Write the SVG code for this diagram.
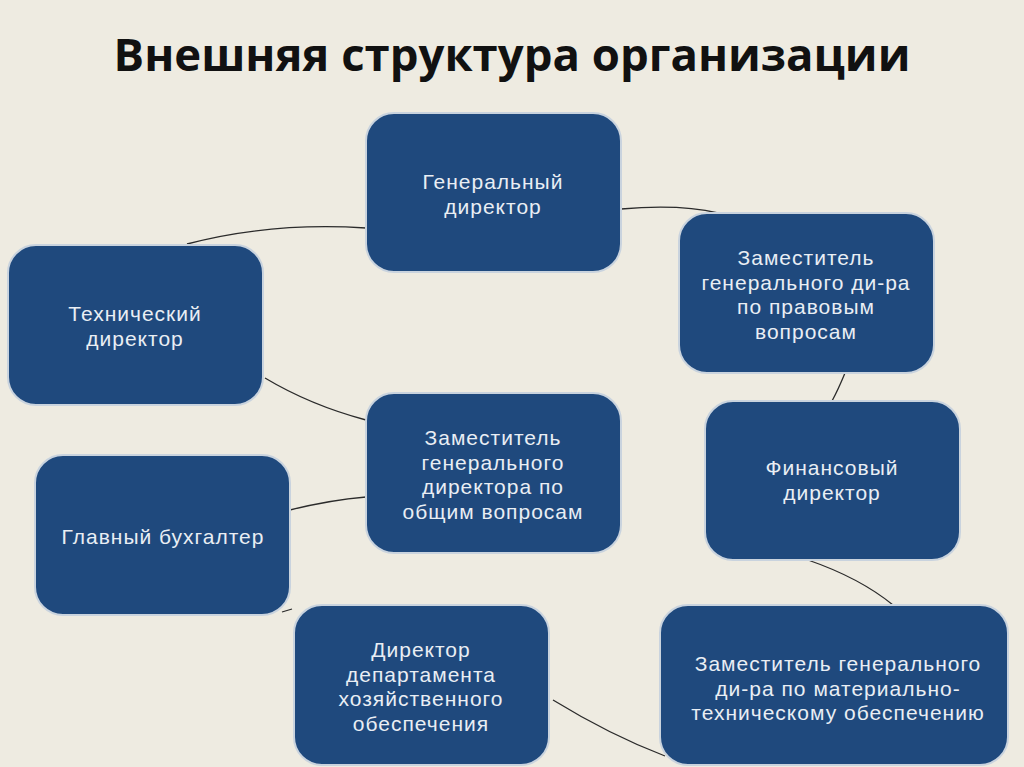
<svg xmlns="http://www.w3.org/2000/svg" width="1024" height="767" viewBox="0 0 1024 767">
<style>
.box{fill:#1F497D;stroke:#C9D3DE;stroke-width:2}
.t{font-family:"Liberation Sans","Arial",sans-serif;font-size:21px;letter-spacing:1px;fill:#E9EEF4;text-anchor:middle}
.c{fill:none;stroke:#2B2B2B;stroke-width:1.3}
.title{font-family:"Open Sans","Liberation Sans",sans-serif;font-weight:bold;font-size:45.5px;fill:#111;text-anchor:middle}
</style>
<rect width="1024" height="767" fill="#EEEBE1"/>
<text class="title" x="512" y="71">Внешняя структура организации</text>
<g id="connectors">
<path class="c" d="M187,244 Q270,222 366,228"/>
<path class="c" d="M621,209 Q680,204 718,213"/>
<path class="c" d="M845,373 Q838,390 832,401"/>
<path class="c" d="M808,560 Q860,578 893,605"/>
<path class="c" d="M553,700 Q610,735 665,756"/>
<path class="c" d="M282,612 L292,609"/>
<path class="c" d="M290,510 Q330,500 366,497"/>
<path class="c" d="M265,378 Q310,405 366,420"/>
</g>
<g id="gen">
<rect class="box" x="366" y="113" width="255" height="159" rx="28"/>
<text class="t" x="493" y="189">Генеральный</text>
<text class="t" x="493" y="213.5">директор</text>
</g>
<g id="tech">
<rect class="box" x="8" y="245" width="255" height="160" rx="28"/>
<text class="t" x="135" y="321">Технический</text>
<text class="t" x="135" y="345.5">директор</text>
</g>
<g id="legal">
<rect class="box" x="679" y="213" width="255" height="160" rx="28"/>
<text class="t" x="806" y="265">Заместитель</text>
<text class="t" x="806" y="289.5">генерального ди-ра</text>
<text class="t" x="806" y="314">по правовым</text>
<text class="t" x="806" y="338.5">вопросам</text>
</g>
<g id="general">
<rect class="box" x="366" y="393" width="255" height="160" rx="28"/>
<text class="t" x="493" y="445">Заместитель</text>
<text class="t" x="493" y="469.5">генерального</text>
<text class="t" x="493" y="494">директора по</text>
<text class="t" x="493" y="518.5">общим вопросам</text>
</g>
<g id="fin">
<rect class="box" x="705" y="401" width="255" height="159" rx="28"/>
<text class="t" x="832" y="475">Финансовый</text>
<text class="t" x="832" y="499.5">директор</text>
</g>
<g id="acc">
<rect class="box" x="35" y="455" width="255" height="160" rx="28"/>
<text class="t" x="163" y="544">Главный бухгалтер</text>
</g>
<g id="dept">
<rect class="box" x="294" y="605" width="255" height="160" rx="28"/>
<text class="t" x="421" y="657">Директор</text>
<text class="t" x="421" y="681.5">департамента</text>
<text class="t" x="421" y="706">хозяйственного</text>
<text class="t" x="421" y="730.5">обеспечения</text>
</g>
<g id="mat">
<rect class="box" x="660" y="605" width="348" height="160" rx="28"/>
<text class="t" x="838" y="671">Заместитель генерального</text>
<text class="t" x="838" y="695.5">ди-ра по материально-</text>
<text class="t" x="838" y="720">техническому обеспечению</text>
</g>
</svg>
